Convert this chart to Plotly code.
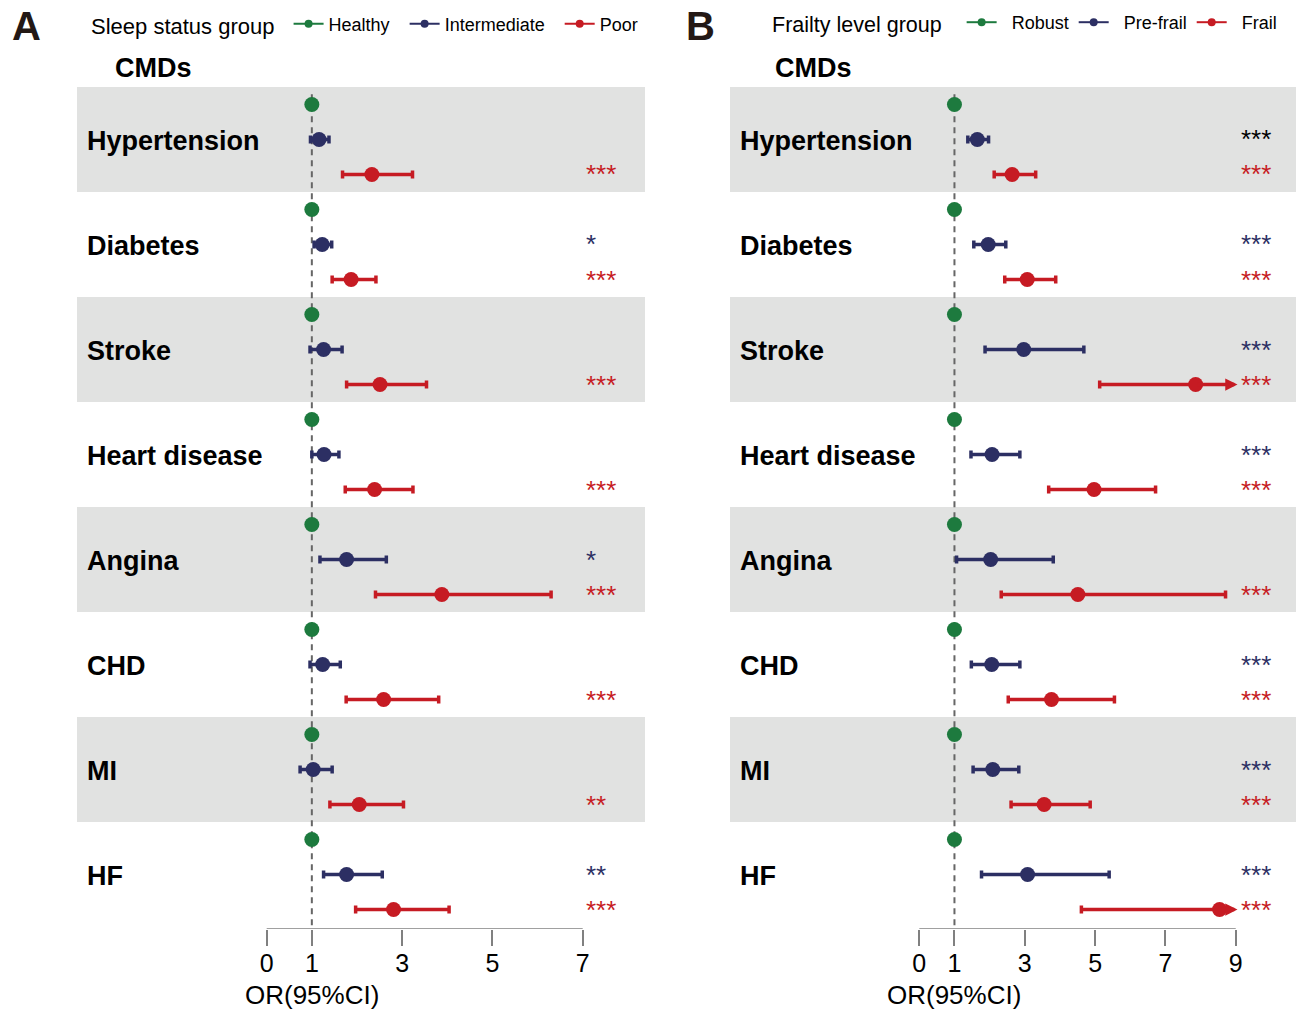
import plotly.graph_objects as go

# ---------------- data ----------------
cmds = ["Hypertension", "Diabetes", "Stroke", "Heart disease", "Angina", "CHD", "MI", "HF"]

# Panel A: sleep status (reference = Healthy, OR = 1)
sleep_groups = ["Healthy", "Intermediate", "Poor"]
inter_or = [1.16, 1.23, 1.26, 1.27, 1.77, 1.24, 1.03, 1.77]
inter_lo = [0.97, 1.05, 0.96, 1.00, 1.18, 0.96, 0.74, 1.26]
inter_hi = [1.38, 1.44, 1.67, 1.60, 2.65, 1.63, 1.45, 2.56]
poor_or = [2.33, 1.87, 2.51, 2.39, 3.88, 2.59, 2.05, 2.81]
poor_lo = [1.68, 1.45, 1.77, 1.74, 2.41, 1.76, 1.40, 1.97]
poor_hi = [3.23, 2.42, 3.54, 3.24, 6.30, 3.81, 3.03, 4.04]
inter_sig = ["", "*", "", "", "*", "", "", "**"]
poor_sig = ["***", "***", "***", "***", "***", "***", "**", "***"]

# Panel B: frailty level (reference = Robust, OR = 1)
frailty_groups = ["Robust", "Pre-frail", "Frail"]
pre_or = [1.65, 1.96, 2.97, 2.07, 2.03, 2.06, 2.09, 3.08]
pre_lo = [1.38, 1.55, 1.87, 1.47, 1.06, 1.48, 1.53, 1.77]
pre_hi = [1.97, 2.46, 4.68, 2.86, 3.81, 2.86, 2.83, 5.40]
frail_or = [2.64, 3.07, 7.86, 4.97, 4.51, 3.76, 3.55, 8.54]
frail_lo = [2.13, 2.43, 5.13, 3.68, 2.33, 2.53, 2.61, 4.61]
frail_hi = [3.31, 3.88, 12.0, 6.72, 8.71, 5.55, 4.86, 15.8]
pre_sig = ["***", "***", "***", "***", "", "***", "***", "***"]
pre_sig_black = [True, False, False, False, False, False, False, False]
frail_sig = ["***", "***", "***", "***", "***", "***", "***", "***"]

ticks_a = [0, 1, 3, 5, 7]
ticks_b = [0, 1, 3, 5, 7, 9]

# ---------------- style ----------------
GREEN = "#1d7a3e"
NAVY = "#2c2f63"
RED = "#c61b23"
BAND = "#e1e2e1"
AXC = "#808080"
FONT = "Liberation Sans, Arial, sans-serif"
NB = "\u00a0"

W, H = 1296, 1011
def py(pix):  # pixel y -> paper
    return 1 - pix / H
def px(pix):
    return pix / W

n = len(cmds)
YMAX = 8.02
y_dom = [py(87 + YMAX * 105), py(87)]

fig = go.Figure()
shapes = []
annotations = []

panels = [
    dict(xa="x", xd="x domain", xr=[-4.202, 8.380], dom=[px(77), px(645)], ticks=ticks_a, xmax=7,
         groups=sleep_groups, m_or=inter_or, m_lo=inter_lo, m_hi=inter_hi,
         h_or=poor_or, h_lo=poor_lo, h_hi=poor_hi, m_sig=inter_sig, m_black=[False] * n,
         h_sig=poor_sig, star_x=7.02, legend="legend", letter="A", letter_x=10,
         label_x=85, cmds_x=113, lead="", trail=NB * 2),
    dict(xa="x2", xd="x2 domain", xr=[-5.384, 10.714], dom=[px(730), 1.0], ticks=ticks_b, xmax=9,
         groups=frailty_groups, m_or=pre_or, m_lo=pre_lo, m_hi=pre_hi,
         h_or=frail_or, h_lo=frail_lo, h_hi=frail_hi, m_sig=pre_sig, m_black=pre_sig_black,
         h_sig=frail_sig, star_x=9.08, legend="legend2", letter="B", letter_x=684,
         label_x=738, cmds_x=773, lead=NB * 2, trail=""),
]

for p in panels:
    xa = p["xa"]
    # background bands
    for i in range(0, n, 2):
        shapes.append(dict(type="rect", xref=p["xd"], yref="y", x0=0, x1=1, y0=i, y1=i + 1,
                           fillcolor=BAND, line_width=0, layer="below"))
    # reference dashed line at OR=1
    shapes.append(dict(type="line", xref=xa, yref="y", x0=1, x1=1, y0=0.07, y1=YMAX,
                       line=dict(color="#666666", width=2, dash="6px,5px"), layer="below"))
    # axis line from 0 to max tick
    shapes.append(dict(type="line", xref=xa, yref="y", x0=0, x1=p["xmax"], y0=YMAX, y1=YMAX,
                       line=dict(color=AXC, width=1.5)))

    y_ref = [i + 1 / 6 for i in range(n)]
    y_mid = [i + 0.5 for i in range(n)]
    y_high = [i + 5 / 6 for i in range(n)]

    # reference group
    fig.add_trace(go.Scatter(x=[1] * n, y=y_ref, mode="markers", xaxis=xa, yaxis="y",
                             marker=dict(color=GREEN, size=15), showlegend=False,
                             hovertext=cmds, name=p["groups"][0]))
    # middle group
    fig.add_trace(go.Scatter(x=p["m_or"], y=y_mid, mode="markers", xaxis=xa, yaxis="y",
                             marker=dict(color=NAVY, size=15), showlegend=False,
                             name=p["groups"][1],
                             error_x=dict(type="data", symmetric=False,
                                          array=[h - o for h, o in zip(p["m_hi"], p["m_or"])],
                                          arrayminus=[o - l for o, l in zip(p["m_or"], p["m_lo"])],
                                          color=NAVY, thickness=3.5, width=4)))
    # high-risk group (truncate CI at axis max with arrow)
    plus = []
    for i, (o, h) in enumerate(zip(p["h_or"], p["h_hi"])):
        if h > p["xmax"]:
            plus.append(0)
            annotations.append(dict(x=p["xmax"] + 0.05, y=y_high[i], ax=o, ay=y_high[i],
                                    xref=xa, yref="y", axref=xa, ayref="y", text="",
                                    showarrow=True, arrowhead=2, arrowsize=0.7, arrowwidth=3.5,
                                    arrowcolor=RED, standoff=0, startstandoff=0))
        else:
            plus.append(h - o)
    fig.add_trace(go.Scatter(x=p["h_or"], y=y_high, mode="markers", xaxis=xa, yaxis="y",
                             marker=dict(color=RED, size=15), showlegend=False,
                             name=p["groups"][2],
                             error_x=dict(type="data", symmetric=False, array=plus,
                                          arrayminus=[o - l for o, l in zip(p["h_or"], p["h_lo"])],
                                          color=RED, thickness=3.5, width=4)))

    # legend-only traces
    for g, c in zip(p["groups"], [GREEN, NAVY, RED]):
        fig.add_trace(go.Scatter(x=[None], y=[None], mode="lines+markers", xaxis=xa, yaxis="y",
                                 name=p["lead"] + g + p["trail"], legend=p["legend"],
                                 line=dict(color=c, width=2), marker=dict(color=c, size=8)))

    # significance stars
    for i in range(n):
        if p["m_sig"][i]:
            annotations.append(dict(x=p["star_x"], y=y_mid[i], xref=xa, yref="y",
                                    text=p["m_sig"][i], showarrow=False, xanchor="left",
                                    yanchor="middle",
                                    font=dict(size=26, family=FONT,
                                              color="#000000" if p["m_black"][i] else NAVY)))
        if p["h_sig"][i]:
            annotations.append(dict(x=p["star_x"], y=y_high[i], xref=xa, yref="y",
                                    text=p["h_sig"][i], showarrow=False, xanchor="left",
                                    yanchor="middle", font=dict(size=26, family=FONT, color=RED)))

    # row labels
    for i, c in enumerate(cmds):
        annotations.append(dict(x=px(p["label_x"]), y=y_mid[i] + 0.015, xref="paper", yref="y",
                                text="<b>%s</b>" % c, showarrow=False, xanchor="left",
                                yanchor="middle", font=dict(size=27, family=FONT, color="#000")))
    # CMDs header
    annotations.append(dict(x=px(p["cmds_x"]), y=py(68), xref="paper", yref="paper",
                            text="<b>CMDs</b>", showarrow=False, xanchor="left", yanchor="middle",
                            font=dict(size=27, family=FONT, color="#000")))
    # panel letter
    annotations.append(dict(x=px(p["letter_x"]), y=py(26), xref="paper", yref="paper",
                            text="<b>%s</b>" % p["letter"], showarrow=False, xanchor="left",
                            yanchor="middle", font=dict(size=40, family=FONT, color="#231815")))
    # axis title centred at OR = 1
    annotations.append(dict(x=1, y=py(995), xref=xa, yref="paper", text="OR(95%CI)",
                            showarrow=False, xanchor="center", yanchor="middle",
                            font=dict(size=26, family=FONT, color="#000")))

axis_common = dict(showgrid=False, zeroline=False, showline=False, ticks="outside", ticklen=16,
                   tickwidth=1.5, tickcolor=AXC, tickfont=dict(size=25, family=FONT, color="#000"),
                   ticklabelstandoff=-4, fixedrange=True)

fig.update_layout(
    width=W, height=H, margin=dict(l=0, r=0, t=0, b=0),
    plot_bgcolor="white", paper_bgcolor="white",
    font=dict(family=FONT),
    xaxis=dict(domain=panels[0]["dom"], range=panels[0]["xr"], tickvals=ticks_a, anchor="y",
               **axis_common),
    xaxis2=dict(domain=panels[1]["dom"], range=panels[1]["xr"], tickvals=ticks_b, anchor="y",
                **axis_common),
    yaxis=dict(domain=y_dom, range=[YMAX, 0], visible=False, fixedrange=True),
    shapes=shapes,
    annotations=annotations,
    legend=dict(orientation="h", x=px(89), y=py(25), xanchor="left", yanchor="middle",
                bgcolor="rgba(0,0,0,0)", font=dict(size=18, family=FONT, color="#000"),
                title=dict(text="Sleep status group" + NB, side="left",
                           font=dict(size=22, family=FONT, color="#000")),
                itemclick=False),
    legend2=dict(orientation="h", x=px(770), y=py(23), xanchor="left", yanchor="middle",
                 bgcolor="rgba(0,0,0,0)", font=dict(size=18, family=FONT, color="#000"),
                 title=dict(text="Frailty level group" + NB * 2, side="left",
                            font=dict(size=21.5, family=FONT, color="#000")),
                 itemclick=False),
    showlegend=True,
)

fig.write_html("out.html", config={"displayModeBar": False},
               post_script="document.body.style.margin='0';"
               "document.body.style.overflow='hidden';")
